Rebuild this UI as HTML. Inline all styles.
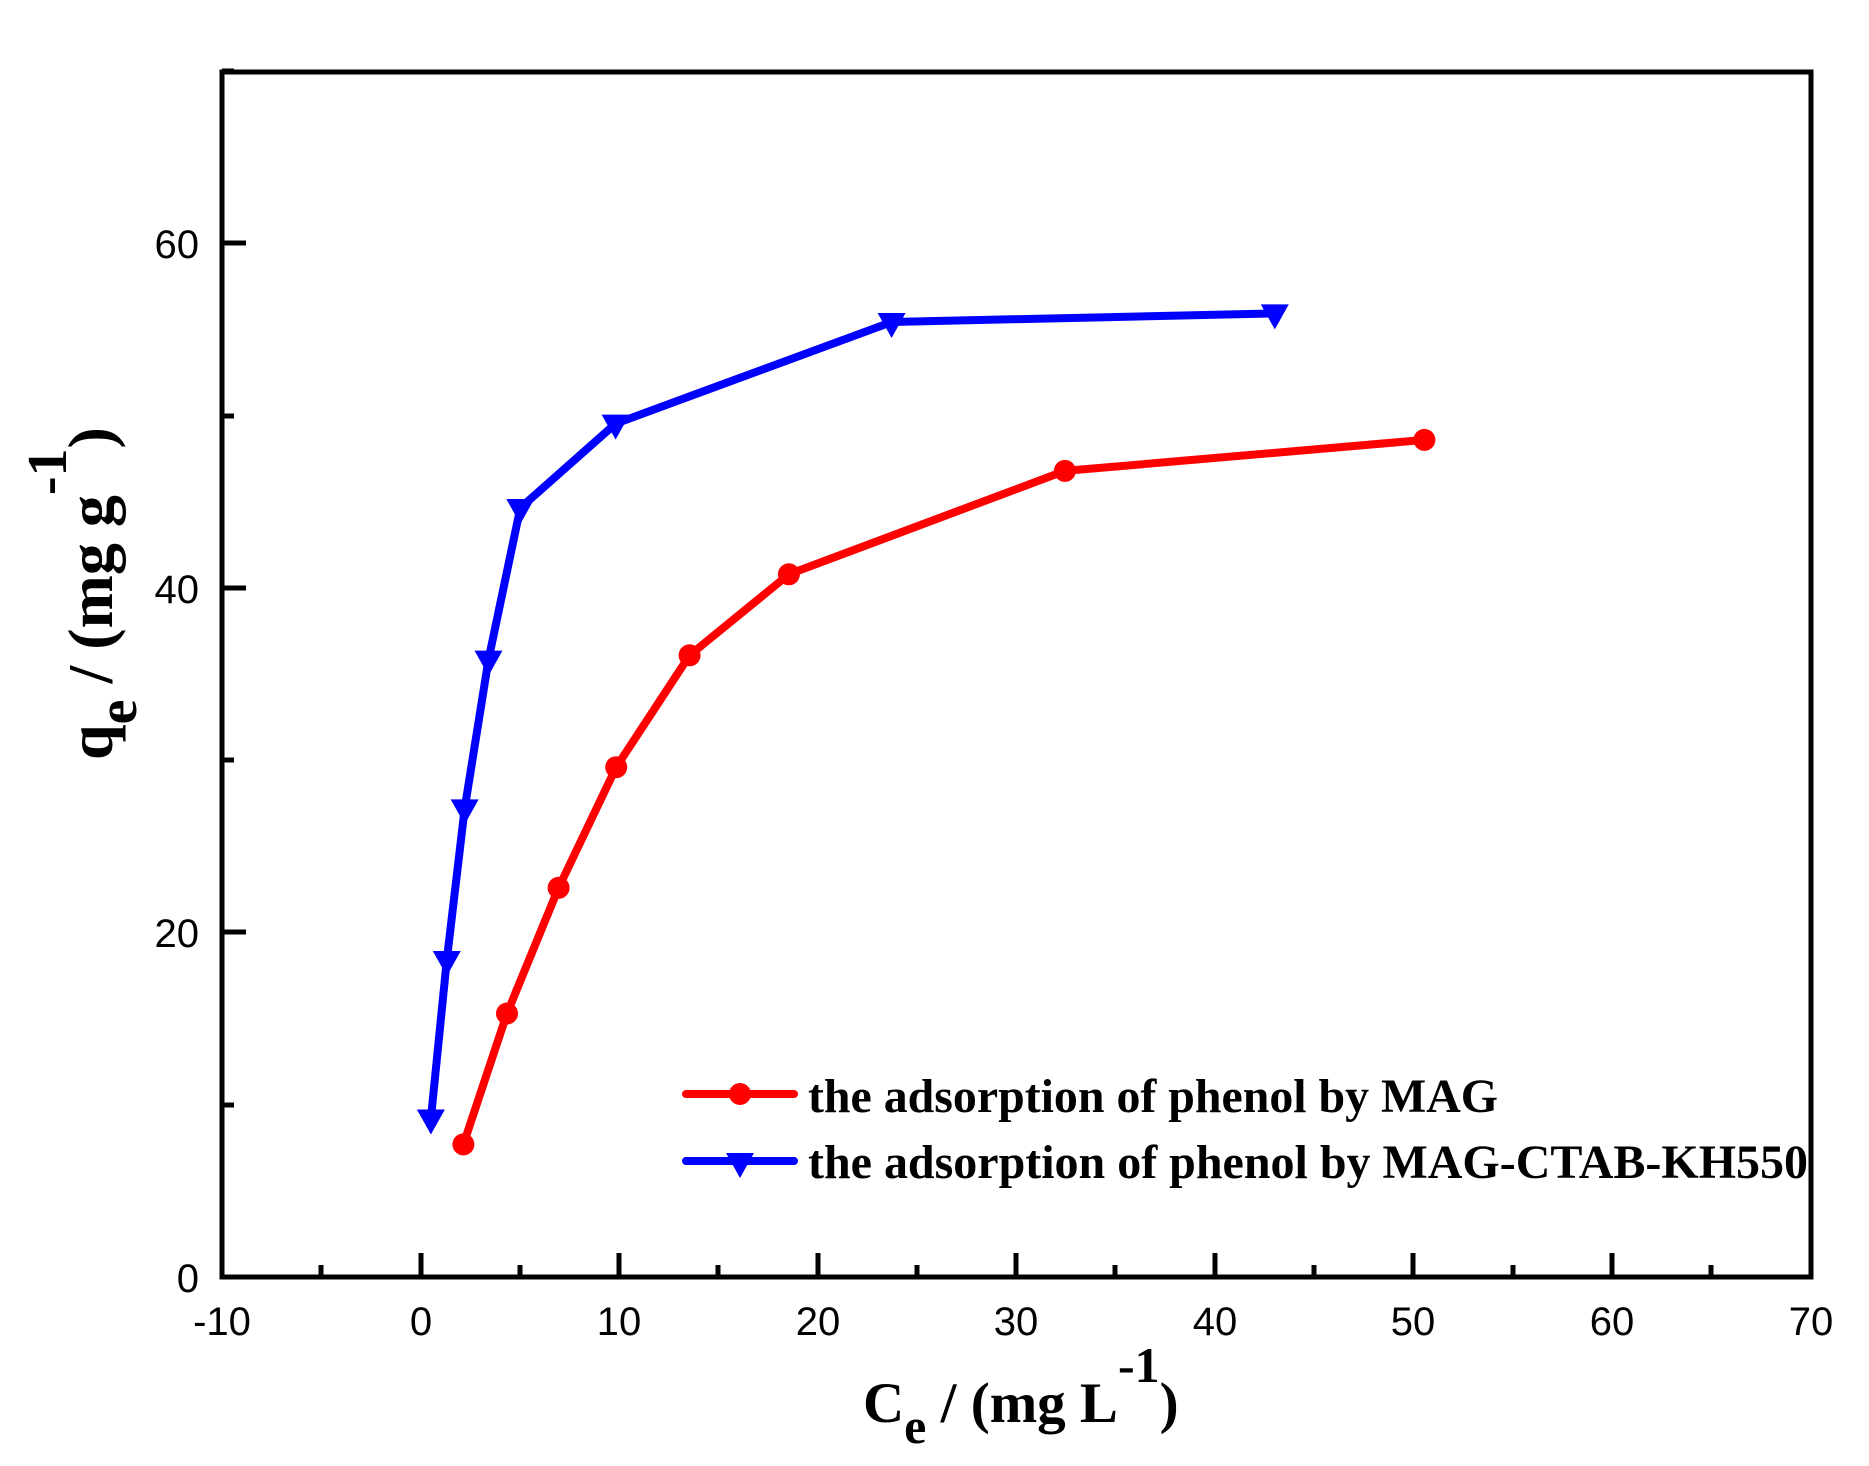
<!DOCTYPE html>
<html><head><meta charset="utf-8"><style>html,body{margin:0;padding:0;background:#fff}svg{display:block}</style></head>
<body>
<svg width="1869" height="1466" viewBox="0 0 1869 1466" xmlns="http://www.w3.org/2000/svg">
<rect width="1869" height="1466" fill="#fff"/>
<g stroke="#000" stroke-width="5">
<rect x="222" y="72" width="1589" height="1205" fill="none"/>
<path d="M222 1277v-24M421 1277v-24M619 1277v-24M818 1277v-24M1016 1277v-24M1215 1277v-24M1413 1277v-24M1612 1277v-24M1811 1277v-24"/>
<path d="M321 1277v-12M520 1277v-12M718 1277v-12M917 1277v-12M1115 1277v-12M1314 1277v-12M1513 1277v-12M1711 1277v-12"/>
<path d="M222 1277h24M222 932h24M222 588h24M222 243h24"/>
<path d="M222 1105h12M222 760h12M222 416h12M222 71h12"/>
</g>
<g font-family="Liberation Sans, sans-serif" font-size="40" fill="#000">
<g text-anchor="middle">
<text x="222" y="1335">-10</text><text x="421" y="1335">0</text><text x="619" y="1335">10</text><text x="818" y="1335">20</text><text x="1016" y="1335">30</text><text x="1215" y="1335">40</text><text x="1413" y="1335">50</text><text x="1612" y="1335">60</text><text x="1811" y="1335">70</text>
</g>
<g text-anchor="end">
<text x="199" y="1292">0</text><text x="199" y="947">20</text><text x="199" y="603">40</text><text x="199" y="258">60</text>
</g>
</g>
<g fill="none" stroke-width="8" stroke-linejoin="round" stroke-linecap="round">
<polyline stroke="#ff0000" points="463.4,1144.4 507.0,1013.5 558.6,887.8 616.2,767.2 689.6,655.3 788.9,574.3 1064.9,470.9 1424.4,439.9"/>
<polyline stroke="#0000ff" points="430.9,1118.5 446.8,960.0 464.7,808.4 488.5,659.6 520.3,508.0 615.6,423.6 891.6,322.0 1274.8,313.4"/>
</g>
<g fill="#ff0000">
<circle cx="463.4" cy="1144.4" r="11"/><circle cx="507.0" cy="1013.5" r="11"/><circle cx="558.6" cy="887.8" r="11"/><circle cx="616.2" cy="767.2" r="11"/><circle cx="689.6" cy="655.3" r="11"/><circle cx="788.9" cy="574.3" r="11"/><circle cx="1064.9" cy="470.9" r="11"/><circle cx="1424.4" cy="439.9" r="11"/>
</g>
<g fill="#0000ff">
<path d="M416.9 1109.5h28l-14 25z"/><path d="M432.8 951h28l-14 25z"/><path d="M450.7 799.4h28l-14 25z"/><path d="M474.5 650.6h28l-14 25z"/><path d="M506.3 499h28l-14 25z"/><path d="M601.6 414.6h28l-14 25z"/><path d="M877.6 313h28l-14 25z"/><path d="M1260.8 304.4h28l-14 25z"/>
</g>
<line x1="686" y1="1094" x2="794" y2="1094" stroke="#ff0000" stroke-width="8" stroke-linecap="round"/>
<circle cx="740" cy="1094" r="11" fill="#ff0000"/>
<line x1="686" y1="1161" x2="794" y2="1161" stroke="#0000ff" stroke-width="8" stroke-linecap="round"/>
<path d="M726 1153h28l-14 25z" fill="#0000ff"/>
<g font-family="Liberation Serif, serif" font-weight="bold" font-size="48" fill="#000">
<text x="808" y="1112" textLength="690" lengthAdjust="spacingAndGlyphs">the adsorption of phenol by MAG</text>
<text x="808" y="1178" textLength="1000" lengthAdjust="spacingAndGlyphs">the adsorption of phenol by MAG-CTAB-KH550</text>
</g>
<g font-family="Liberation Serif, serif" font-weight="bold" fill="#000">
<text x="863" y="1422" font-size="57">C<tspan font-size="50" dy="21">e</tspan><tspan dy="-21" font-size="57"> / (mg L</tspan><tspan font-size="50" dy="-40">-1</tspan><tspan dy="40" font-size="57">)</tspan></text>
<text transform="translate(112,760) rotate(-90)" font-size="64">q<tspan font-size="56" dy="24">e</tspan><tspan dy="-24"> / (mg g</tspan><tspan font-size="56" dy="-46">-1</tspan><tspan dy="46">)</tspan></text>
</g>
</svg>
</body></html>
